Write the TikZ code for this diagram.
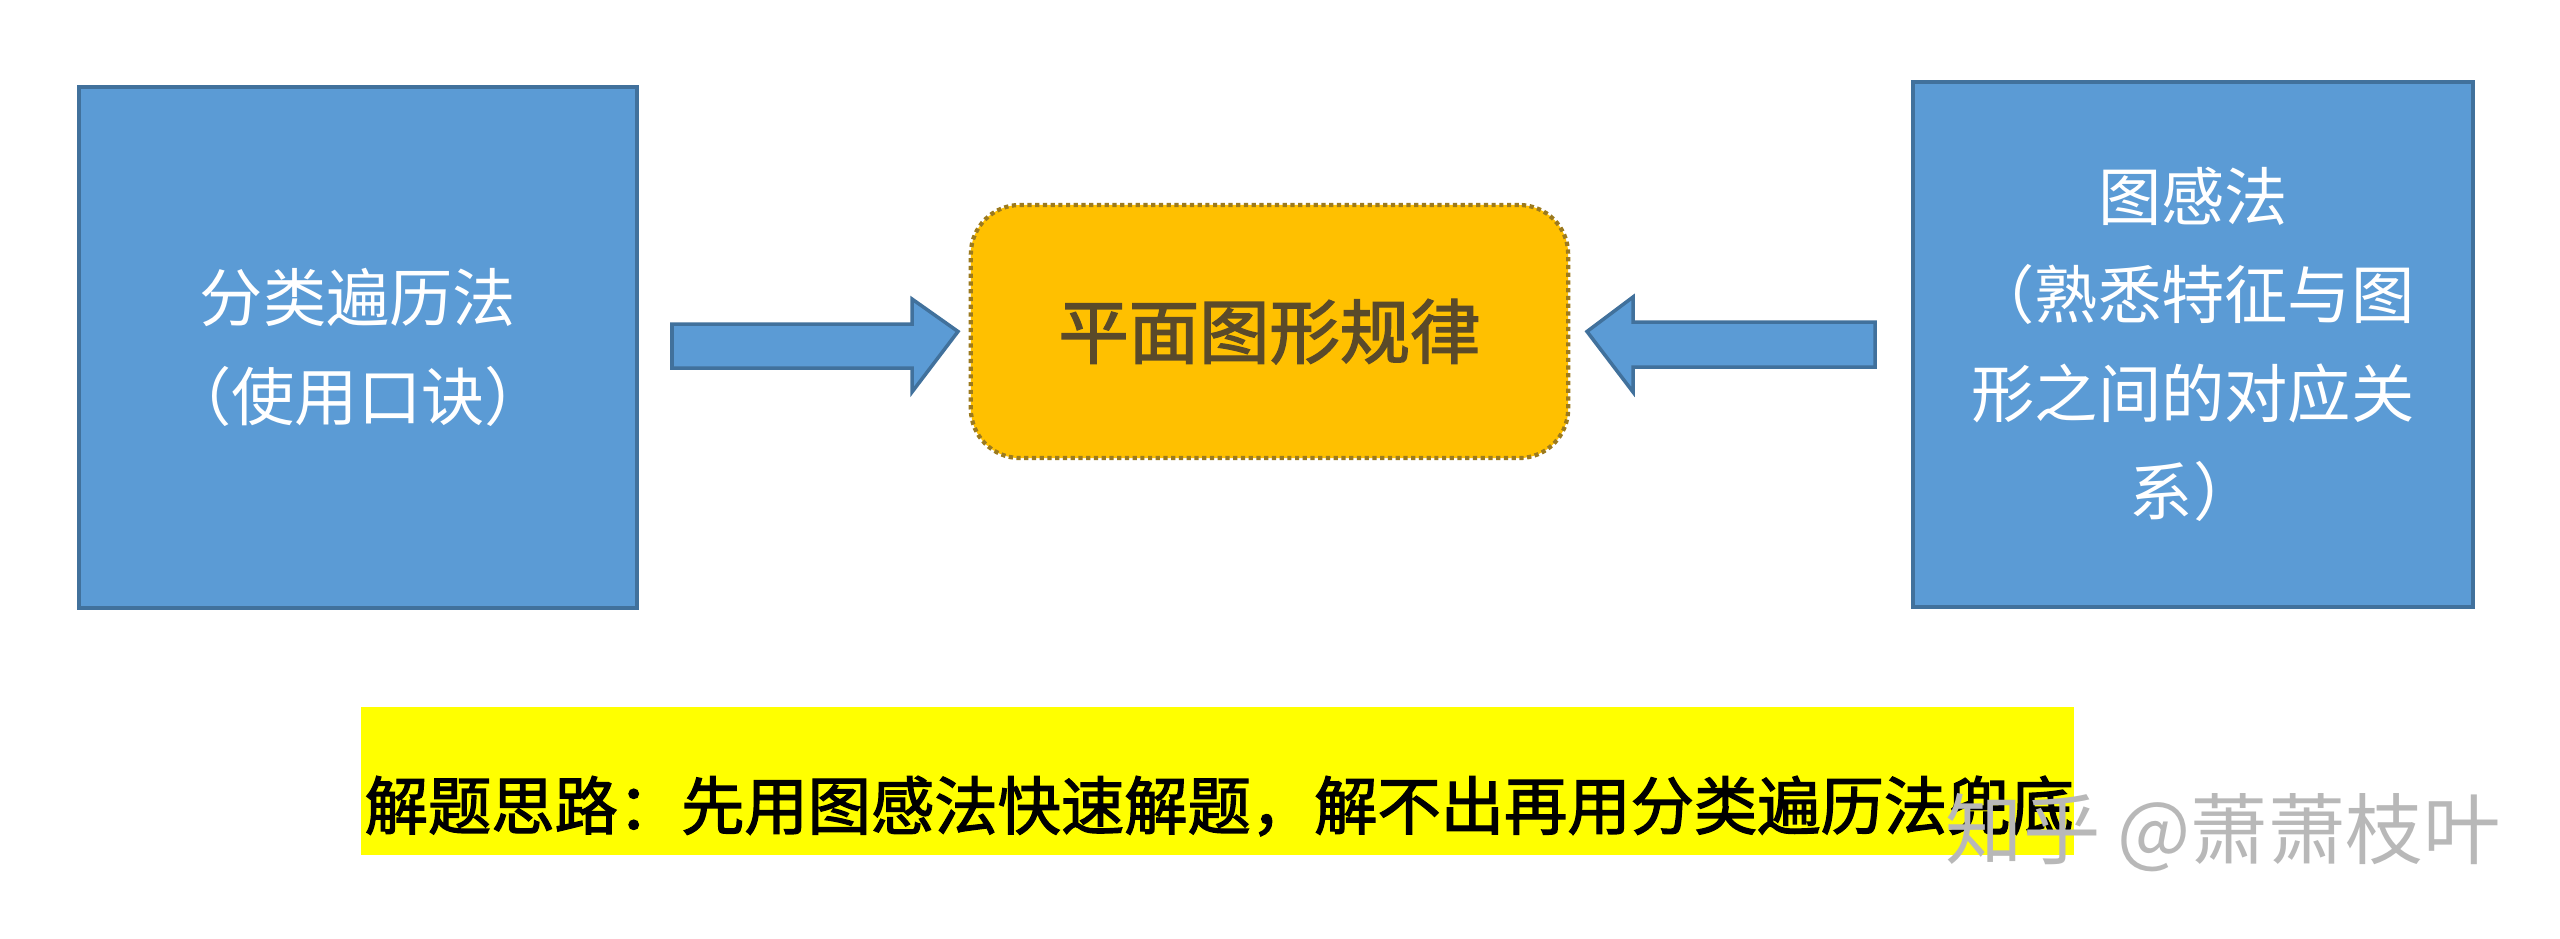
\documentclass[tikz,border=0pt]{standalone}
\usepackage{fontspec}
\newfontfamily\cjk{Noto Sans CJK SC}
\newfontfamily\cjkb{Noto Sans CJK SC}[FakeBold=2]
\definecolor{boxblue}{HTML}{5B9BD5}
\definecolor{boxblueline}{HTML}{41719C}
\definecolor{goldfill}{HTML}{FFC000}
\definecolor{goldline}{HTML}{9C7A1E}
\definecolor{centertext}{HTML}{5A4A2A}
\definecolor{barfill}{HTML}{FFFF00}
\tikzset{
  bluebox/.style={draw=boxblueline, line width=1.2pt, fill=boxblue, text=white,
    align=center, inner sep=0pt, font=\cjk\fontsize{18}{28}\selectfont},
  goldbox/.style={draw=goldline, line width=1.2pt, densely dotted, fill=goldfill,
    rounded corners=14pt, inner sep=0pt, text=centertext, font=\cjkb\fontsize{20}{28}\selectfont},
  blockarrow/.style={draw=boxblueline, line width=1pt, fill=boxblue},
  barbox/.style={fill=barfill, inner sep=0pt},
  bartext/.style={font=\cjkb\fontsize{18}{24}\selectfont, text=black, inner sep=0pt, anchor=west},
  wmark/.style={font=\cjk\fontsize{22}{24}\selectfont, text=black!28, inner sep=0pt, anchor=west}
}
\begin{document}
\begin{tikzpicture}[x=0.01cm, y=-0.01cm]
\useasboundingbox (0,0) rectangle (2560,938);
\fill[white] (0,0) rectangle (2560,938);
% boxes
\node[bluebox, minimum width=5.58cm, minimum height=5.21cm] (left) at (358,347.5)
  {分类遍历法\\（使用口诀）};
\node[bluebox, minimum width=5.60cm, minimum height=5.25cm] (right) at (2193,344.5)
  {图感法\\（熟悉特征与图\\形之间的对应关\\系）};
\node[goldbox, minimum width=5.97cm, minimum height=2.53cm] (center) at (1269.5,331.5)
  {平面图形规律};
% arrows
\coordinate (la) at (672,346);
\coordinate (ra) at (1875,344.5);
\draw[blockarrow] (la) ++(0,-22) -- ++(240,0) -- ++(0,-25) -- (center.west -| 958,346)
  -- (912,392) -- (912,368) -- (672,368) -- cycle;
\draw[blockarrow] (ra) ++(0,-22.5) -- ++(-242,0) -- ++(0,-25) -- (center.east -| 1587,344.5)
  -- (1633,392) -- (1633,367) -- (1875,367) -- cycle;
% bottom bar
\node[barbox, minimum width=17.12cm, minimum height=1.48cm] (bar) at (1217,781) {};
\node[bartext] (bartxt) at (364,806) {解题思路：先用图感法快速解题，解不出再用分类遍历法兜底};
% watermark
\node[wmark] (wm) at (1945,833) {知乎 @萧萧枝叶};
\end{tikzpicture}
\end{document}
